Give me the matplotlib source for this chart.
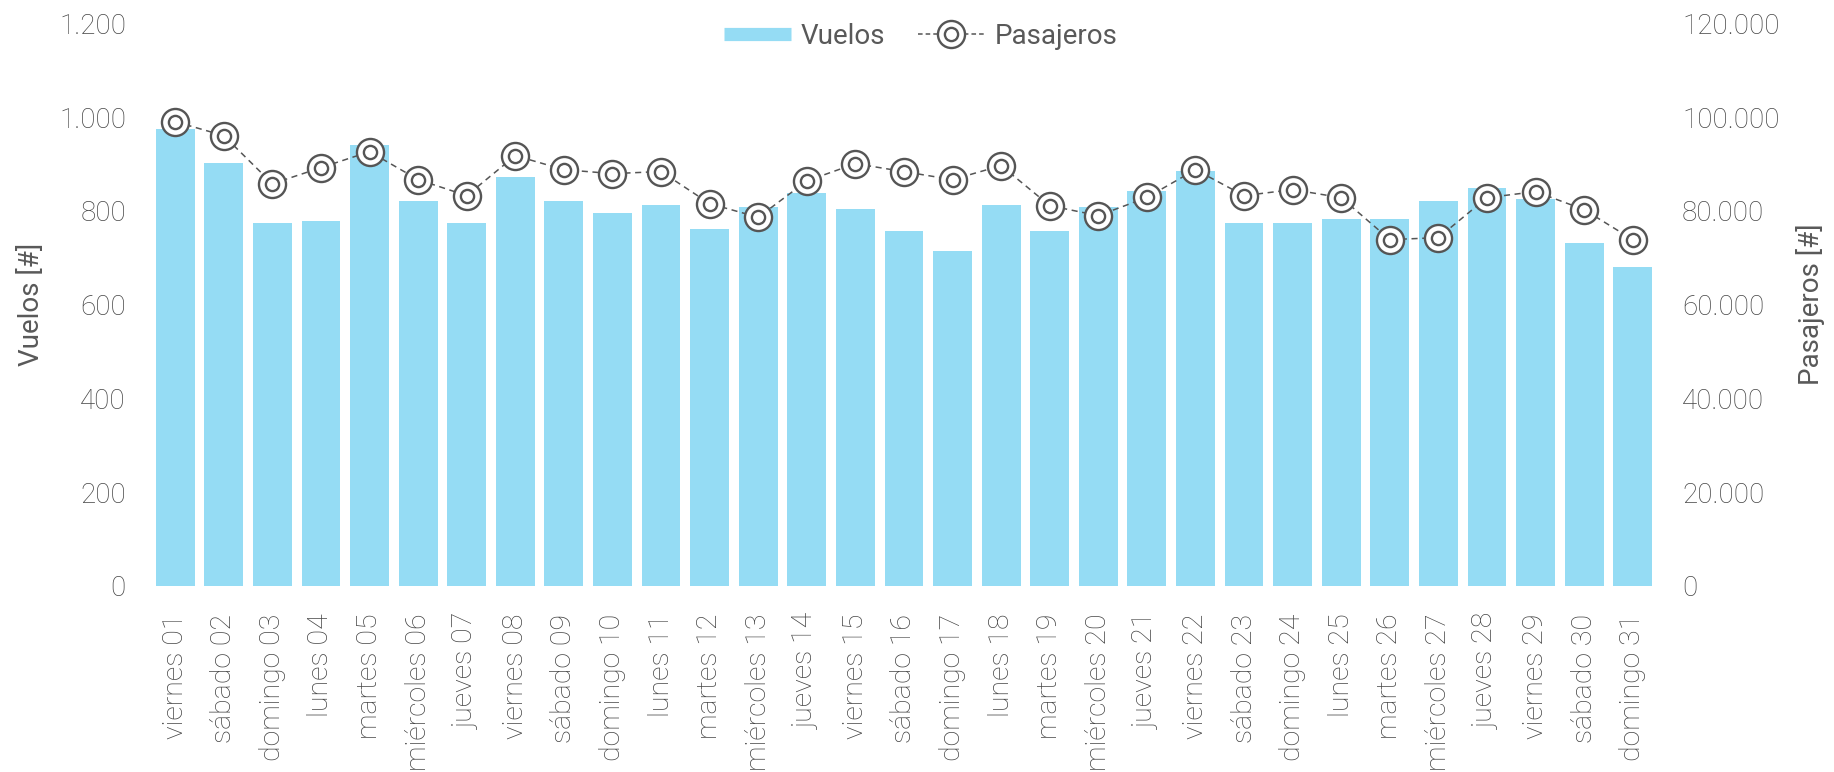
import matplotlib
matplotlib.use("Agg")
import matplotlib.pyplot as plt
from matplotlib.lines import Line2D
from matplotlib.legend_handler import HandlerTuple
from matplotlib.ticker import FuncFormatter, MultipleLocator

plt.rcParams['font.family'] = ['Roboto', 'DejaVu Sans']

dias = ["viernes 01", "sábado 02", "domingo 03", "lunes 04", "martes 05", "miércoles 06",
        "jueves 07", "viernes 08", "sábado 09", "domingo 10", "lunes 11", "martes 12",
        "miércoles 13", "jueves 14", "viernes 15", "sábado 16", "domingo 17", "lunes 18",
        "martes 19", "miércoles 20", "jueves 21", "viernes 22", "sábado 23", "domingo 24",
        "lunes 25", "martes 26", "miércoles 27", "jueves 28", "viernes 29", "sábado 30",
        "domingo 31"]
vuelos = [975, 903, 775, 779, 941, 822, 775, 873, 822, 796, 813, 762, 809, 839, 805,
          758, 715, 813, 758, 809, 843, 886, 775, 775, 783, 783, 822, 848, 826, 732, 681]
pasajeros = [99040, 96050, 85800, 89230, 92640, 86670, 83260, 91790, 88800, 87950,
             88400, 81550, 78640, 86390, 90080, 88380, 86670, 89660, 81120, 78990,
             82870, 88800, 83260, 84540, 82830, 73870, 74300, 82830, 84110, 80270, 73870]

BAR = '#95DCF4'
GRAY = '#595959'
TICK = '#454545'
LINE = '#555555'

fig = plt.figure(figsize=(18.34, 7.72), dpi=100)
ax = fig.add_axes([0.0823, 0.241, 0.8212, 0.7287])
ax2 = ax.twinx()

x = list(range(len(dias)))
ax.bar(x, vuelos, width=0.8, color=BAR, zorder=2)
ax.set_xlim(-0.5, len(dias) - 0.5)
ax.set_ylim(0, 1200)
ax.yaxis.set_major_locator(MultipleLocator(200))
ax2.set_ylim(0, 120000)
ax2.yaxis.set_major_locator(MultipleLocator(20000))

fmt = FuncFormatter(lambda v, p: f"{int(round(v)):,}".replace(",", "."))
ax.yaxis.set_major_formatter(fmt)
ax2.yaxis.set_major_formatter(fmt)

ax2.plot(x, pasajeros, color=LINE, lw=1.1, ls=(0, (4, 3)), zorder=3)
ax2.plot(x, pasajeros, ls='none', marker='o', ms=19.5, mfc='white', mec=LINE, mew=1.7, zorder=4)
ax2.plot(x, pasajeros, ls='none', marker='o', ms=9.5, mfc='white', mec=LINE, mew=1.7, zorder=5)

for a in (ax, ax2):
    for s in a.spines.values():
        s.set_visible(False)
    a.tick_params(length=0, labelsize=20, labelcolor=TICK)
ax.tick_params(axis='y', pad=18)
ax2.tick_params(axis='y', pad=18)

ax.set_xticks(x)
ax.set_xticklabels(dias, rotation=90, fontsize=20.5, color=TICK, fontweight='light')
ax.tick_params(axis='x', pad=20)
for lab in ax.get_yticklabels() + ax2.get_yticklabels():
    lab.set_fontweight('light')

ax.set_ylabel("Vuelos [#]", fontsize=20, color=GRAY, labelpad=10)
ax2.set_ylabel("Pasajeros [#]", fontsize=20, color=GRAY, labelpad=12)

h_bar = Line2D([], [], color=BAR, lw=9.5, solid_capstyle='butt')
h_line = Line2D([], [], color=LINE, lw=1.1, ls=(0, (3, 2)))
h_o = Line2D([], [], ls='none', marker='o', ms=19.5, mfc='white', mec=LINE, mew=1.7)
h_i = Line2D([], [], ls='none', marker='o', ms=9.5, mfc='white', mec=LINE, mew=1.7)
leg = fig.legend([h_bar, (h_line, h_o, h_i)], ["Vuelos", "Pasajeros"],
                 handler_map={tuple: HandlerTuple(ndivide=1, pad=0)},
                 loc='center', bbox_to_anchor=(0.502, 0.953), ncol=2, frameon=False,
                 fontsize=20, handlelength=2.4, handletextpad=0.35, columnspacing=1.2,
                 labelcolor=GRAY, numpoints=1)

fig.savefig("out.png", dpi=100)
